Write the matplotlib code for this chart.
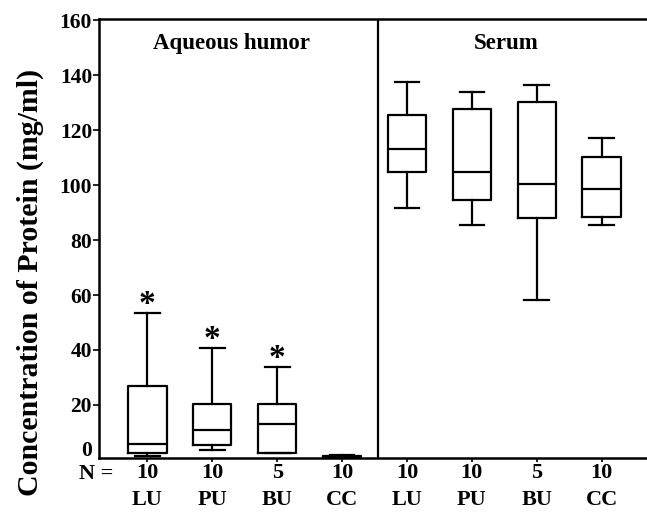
import matplotlib
matplotlib.use("Agg")
import matplotlib.pyplot as plt
import matplotlib.transforms as mtransforms

plt.rcParams['font.family'] = ['Liberation Serif', 'DejaVu Serif']
plt.rcParams['font.weight'] = 'bold'

categories = ["LU", "PU", "BU", "CC", "LU", "PU", "BU", "CC"]
counts = [10, 10, 5, 10, 10, 10, 5, 10]
whislo = [1.5, 3.5, 2.6, 0.8, 91.7, 85.4, 58.1, 85.4]
q1 = [2.6, 5.6, 2.6, 1.0, 104.7, 94.6, 87.9, 88.3]
med = [5.8, 10.9, 13.1, 1.2, 113.3, 104.7, 100.3, 98.6]
q3 = [26.8, 20.3, 20.3, 1.4, 125.4, 127.8, 130.1, 110.4]
whishi = [53.6, 40.7, 33.8, 1.6, 137.6, 133.9, 136.4, 117.1]
star_groups = [0, 1, 2]
ytick_vals = [4, 20, 40, 60, 80, 100, 120, 140, 160]
ytick_labels = ["0", "20", "40", "60", "80", "100", "120", "140", "160"]
panel_titles = ["Aqueous humor", "Serum"]

fig = plt.figure(figsize=(6.47, 5.12), dpi=100)
ax = fig.add_axes([0.153, 0.105, 0.847, 0.858])

positions = list(range(1, len(categories) + 1))
stats = []
for i in range(len(categories)):
    stats.append(dict(whislo=whislo[i], q1=q1[i], med=med[i], q3=q3[i],
                      whishi=whishi[i], fliers=[], label=categories[i]))

lw = 1.6
ax.bxp(stats, positions=positions, widths=0.59, capwidths=0.38, showfliers=False,
       boxprops=dict(color='black', linewidth=lw),
       whiskerprops=dict(color='black', linewidth=lw),
       capprops=dict(color='black', linewidth=lw),
       medianprops=dict(color='black', linewidth=lw))

ax.set_xlim(0.253, 8.70)
ax.set_ylim(0.6, 160.5)

ax.axvline(4.547, color='black', linewidth=1.6)

for i in star_groups:
    ax.text(positions[i], whishi[i] - 2.5, "*", ha='center', va='bottom',
            fontsize=24, fontweight='bold')

ax.text(2.3, 151.6, panel_titles[0], ha='center', va='center', fontsize=16.5, fontweight='bold')
ax.text(6.53, 151.6, panel_titles[1], ha='center', va='center', fontsize=16.5, fontweight='bold')

ax.set_yticks(ytick_vals)
ax.set_yticklabels(ytick_labels, fontsize=15.5, fontweight='bold')
ax.yaxis.get_major_ticks()[0].tick1line.set_visible(False)
ax.tick_params(axis='y', length=4, width=1.2, pad=1)

ax.set_xticks(positions)
ax.set_xticklabels([f"{c}\n{cat}" for c, cat in zip(counts, categories)],
                   fontsize=16, fontweight='bold', linespacing=1.45)
ax.tick_params(axis='x', length=3, width=1.2, pad=0.5)

trans = mtransforms.blended_transform_factory(ax.transAxes, ax.transAxes)
ax.text(0.026, -0.012, "N =", ha='right', va='top', fontsize=16, fontweight='bold',
        transform=trans)

ax.set_ylabel("Concentration of Protein (mg/ml)", fontsize=21.5, fontweight='bold')
ax.yaxis.set_label_coords(-0.1, 0.40)

for s in ['left', 'bottom', 'top']:
    ax.spines[s].set_linewidth(1.8)
ax.spines['right'].set_visible(False)

fig.savefig("out.png", dpi=100)
